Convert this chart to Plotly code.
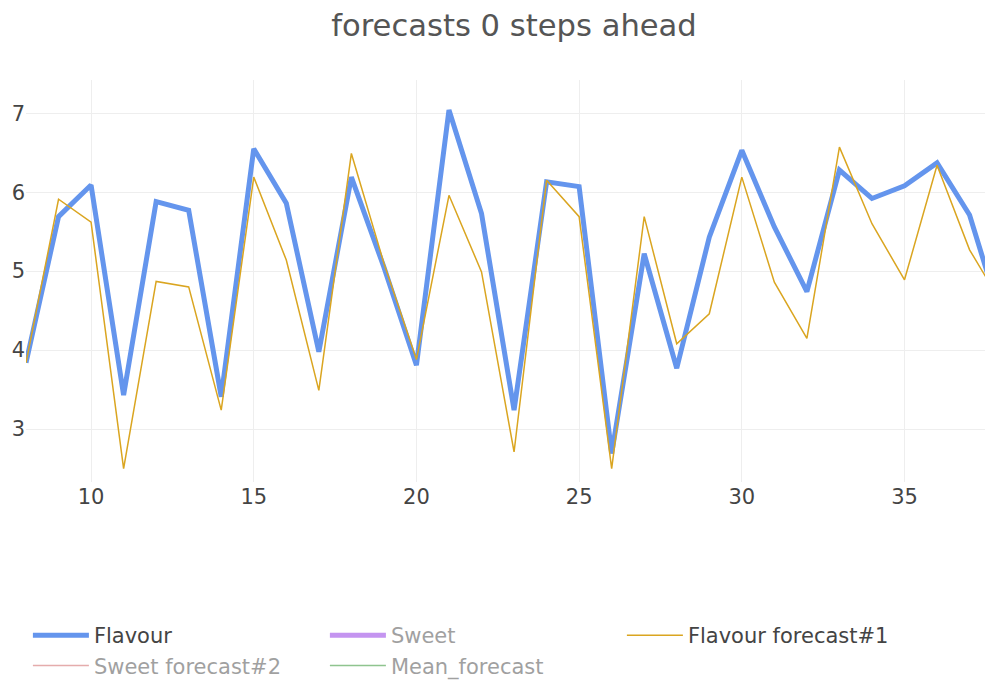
import plotly.graph_objects as go

x_vals = list(range(8, 39))
flavour = [3.84, 5.69, 6.09, 3.43, 5.88, 5.77, 3.41, 6.55, 5.86, 3.98,
           6.19, 5.05, 3.81, 7.04, 5.73, 3.24, 6.13, 6.07, 2.69, 5.22,
           3.77, 5.43, 6.53, 5.56, 4.74, 6.28, 5.92, 6.08, 6.37, 5.71, 4.37]
flavour_fc1 = [3.84, 5.91, 5.62, 2.50, 4.87, 4.80, 3.24, 6.19, 5.14, 3.49,
               6.49, 5.10, 3.88, 5.96, 4.99, 2.71, 6.15, 5.69, 2.50, 5.69,
               4.08, 4.46, 6.19, 4.86, 4.15, 6.57, 5.60, 4.89, 6.34, 5.27, 4.58]
# hidden (legend-only) series: their values are not visible in the picture
sweet = [None] * len(x_vals)
sweet_fc2 = [None] * len(x_vals)
mean_fc = [None] * len(x_vals)

FONT = "DejaVu Sans"
W, H = 985, 682

fig = go.Figure()
fig.add_trace(go.Scatter(x=x_vals, y=flavour, mode="lines", name="Flavour",
                         line=dict(color="#6495ED", width=5)))
fig.add_trace(go.Scatter(x=x_vals, y=sweet, mode="lines", name="Sweet",
                         line=dict(color="blueviolet", width=5), visible="legendonly"))
fig.add_trace(go.Scatter(x=x_vals, y=flavour_fc1, mode="lines", name="Flavour forecast#1",
                         line=dict(color="#DAA520", width=1.5)))
fig.add_trace(go.Scatter(x=x_vals, y=sweet_fc2, mode="lines", name="Sweet forecast#2",
                         line=dict(color="indianred", width=1.5), visible="legendonly"))
fig.add_trace(go.Scatter(x=x_vals, y=mean_fc, mode="lines", name="Mean_forecast",
                         line=dict(color="forestgreen", width=1.5), visible="legendonly"))

fig.update_layout(
    width=W, height=H,
    margin=dict(l=18, r=0, t=72, b=208, autoexpand=False),
    paper_bgcolor="white", plot_bgcolor="white",
    font=dict(family=FONT, color="#444"),
    title=dict(text="forecasts 0 steps ahead", x=506 / W, xref="container",
               xanchor="center", y=1 - 17 / H, yanchor="middle",
               font=dict(size=30.6, color="#555", family=FONT)),
    xaxis=dict(range=[8, 37.72], tickvals=[10, 15, 20, 25, 30, 35],
               showgrid=True, gridcolor="#eeeeee", zeroline=False,
               tickfont=dict(size=21), showline=False, automargin=False),
    yaxis=dict(range=[2.33, 7.42], tickvals=[3, 4, 5, 6, 7],
               showgrid=True, gridcolor="#eeeeee", zeroline=False,
               tickfont=dict(size=21), showline=False, automargin=False),
    showlegend=True,
    legend=dict(orientation="h", xref="container", x=19.9 / W, xanchor="left",
                yref="container", y=1 - 607 / H, yanchor="top",
                font=dict(size=21, color="#444", family=FONT),
                itemwidth=56, entrywidth=226, entrywidthmode="pixels"),
)

fig.write_html("out.html")
